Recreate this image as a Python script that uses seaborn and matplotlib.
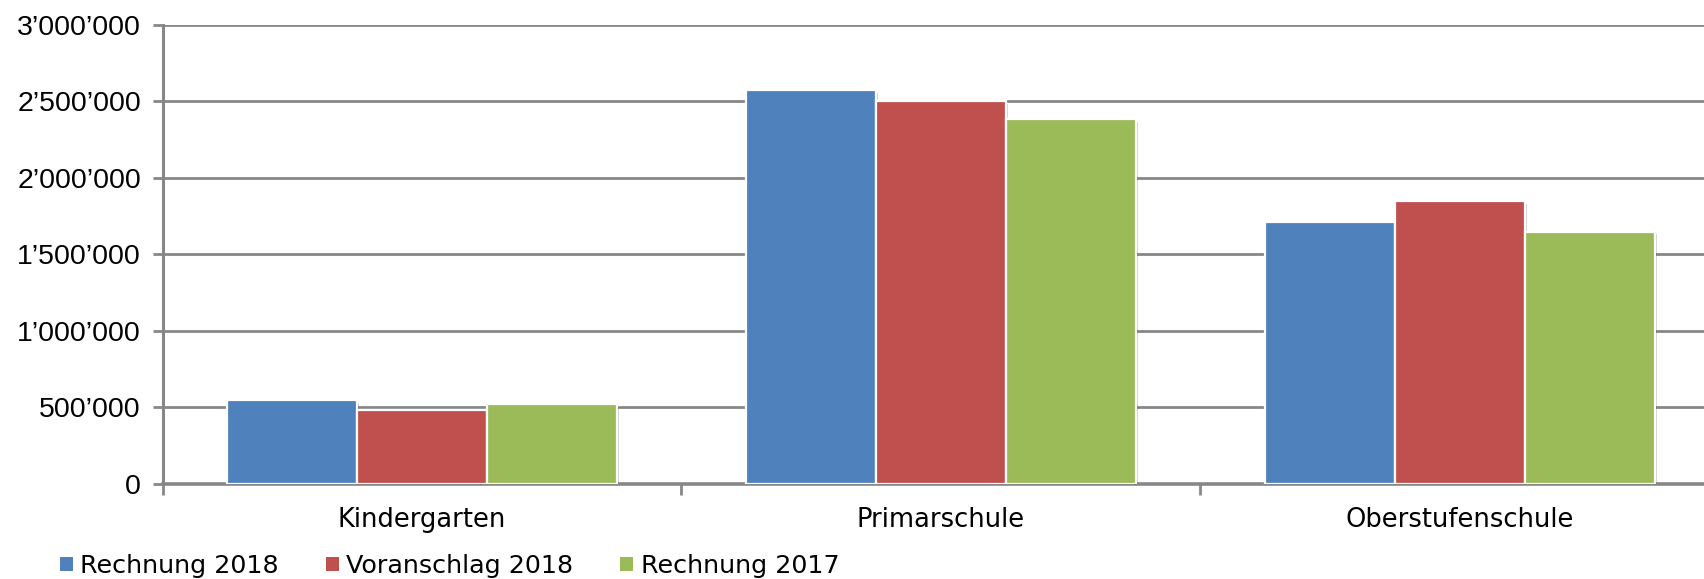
import matplotlib
matplotlib.use("Agg")
import matplotlib.pyplot as plt
import matplotlib.patheffects as pe
from matplotlib.patches import Patch
from matplotlib.ticker import FuncFormatter, FixedLocator
import seaborn as sns
import pandas as pd

categories = ["Kindergarten", "Primarschule", "Oberstufenschule"]
series_names = ["Rechnung 2018", "Voranschlag 2018", "Rechnung 2017"]
rechnung_2018 = [548000, 2575000, 1710000]
voranschlag_2018 = [482000, 2503000, 1850000]
rechnung_2017 = [518000, 2383000, 1648000]
colors = ["#4F81BD", "#C0504D", "#9BBB59"]

rows = []
for name, vals in zip(series_names, [rechnung_2018, voranschlag_2018, rechnung_2017]):
    for c, v in zip(categories, vals):
        rows.append({"Kategorie": c, "Serie": name, "Wert": v})
df = pd.DataFrame(rows)

sns.set_theme(style="white")
plt.rcParams["font.family"] = ["DejaVu Sans"]
plt.rcParams["text.color"] = "black"

W, H = 1704, 579
fig = plt.figure(figsize=(W / 100, H / 100), dpi=100)
ax = fig.add_axes([162.5 / W, 1 - 483.5 / H, (1719.5 - 162.5) / W, (483.5 - 25) / H])

sns.barplot(data=df, x="Kategorie", y="Wert", hue="Serie", order=categories,
            hue_order=series_names, palette=colors, width=0.75, gap=0,
            errorbar=None, saturation=1, edgecolor="white", linewidth=1.6,
            ax=ax, legend=False, zorder=3)

for p in ax.patches:
    p.set_path_effects([pe.SimplePatchShadow(offset=(1.5, -2), shadow_rgbFace="black", alpha=0.18),
                        pe.Normal()])

grid_c = "#878787"
ax.set_ylim(0, 3000000)
ax.set_xlim(-0.5, 2.5)
ax.set_yticks(range(0, 3000001, 500000))
ax.yaxis.set_major_formatter(FuncFormatter(lambda v, _: f"{int(v):,}".replace(",", "\u2019")))
ax.yaxis.grid(True, color=grid_c, linewidth=2, zorder=0)
ax.set_axisbelow(True)
ax.set_xlabel("")
ax.set_ylabel("")

for side in ["top", "right"]:
    ax.spines[side].set_visible(False)
ax.spines["left"].set_color(grid_c)
ax.spines["left"].set_linewidth(2.2)
ax.spines["bottom"].set_color(grid_c)
ax.spines["bottom"].set_linewidth(2.6)

ax.tick_params(axis="y", which="major", length=7, width=2, color=grid_c, pad=8.5,
               labelsize=20.5, labelcolor="#000000", left=True)
for lbl in ax.get_yticklabels():
    lbl.set_fontfamily(["Liberation Sans", "DejaVu Sans"])

ax.tick_params(axis="x", which="major", length=0, pad=17, labelsize=18.5, labelcolor="#000000")
ax.xaxis.set_minor_locator(FixedLocator([-0.5, 0.5, 1.5, 2.5]))
ax.tick_params(axis="x", which="minor", length=8, width=2, color=grid_c, bottom=True)

handles = [Patch(facecolor=c, edgecolor="none") for c in colors]
fig.legend(handles, series_names, loc="center left", bbox_to_anchor=(60 / W, 1 - 566 / H),
           ncol=3, frameon=False, fontsize=18.3, labelcolor="black", handlelength=0.5,
           handleheight=0.5, handletextpad=0.3, columnspacing=1.85, borderaxespad=0,
           borderpad=0)

fig.savefig("out.png", dpi=100, facecolor="white")
